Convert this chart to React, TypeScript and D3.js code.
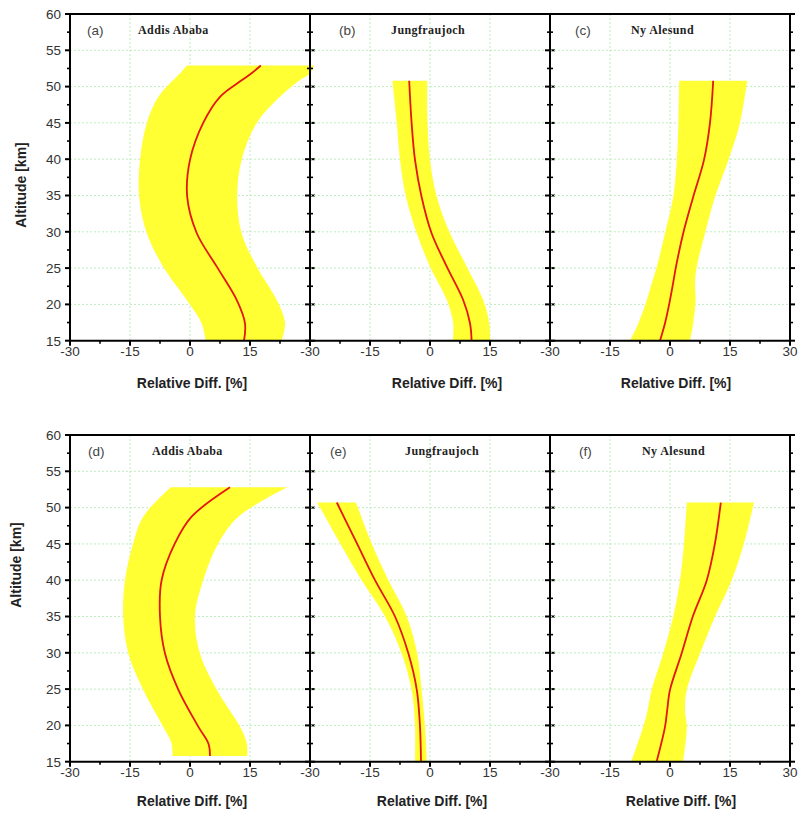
import React from "react";
import * as d3 from "d3";

// ---------- data (altitude in km, relative difference in %) ----------
const altA = [52.9, 51.8, 50.9, 48.6, 45, 39.9, 34.8, 29.8, 25.2, 20.6, 17.4, 15];
const lowA = [-0.8, -2.5, -4.2, -7.9, -10.8, -12.5, -12.7, -10.8, -6.7, -0.8, 2.9, 3.9];
const meanA = [17.7, 15.3, 13, 7.5, 3.3, 0, -0.7, 1.7, 6.7, 11.7, 13.75, 13.5];
const upA = [31, 30, 27.5, 22.5, 16.7, 12.9, 11.8, 12.9, 16.7, 21.7, 23.75, 22.9];

const altB = [50.8, 45, 39.9, 34.8, 29.8, 25.2, 20.6, 17.4, 15];
const lowB = [-9.4, -8.3, -7.5, -6, -3.3, 0, 4.2, 5.8, 5.7];
const meanB = [-5.2, -4.6, -3.75, -2.1, 0.4, 4.2, 8.3, 10, 10.4];
const upB = [-0.7, -0.6, 0, 1.7, 5, 9.2, 13.3, 14.8, 15];

const altC = [50.8, 45, 39.9, 34.8, 29.8, 25.2, 23, 20.6, 17.4, 15];
const lowC = [2.3, 2.1, 1.7, 0.8, -1.25, -3.3, -4.5, -5.8, -7.9, -10];
const meanC = [10.8, 10, 8.5, 5.8, 3.3, 1.5, 0.8, 0, -1.25, -2.5];
const upC = [19.3, 17.5, 14.6, 11.25, 8.75, 6.7, 6.25, 6.4, 5.8, 5];

const altD = [52.8, 48.75, 45.1, 40, 35, 29.9, 24.9, 19.8, 17.5, 15.8];
const lowD = [-4.8, -11.7, -14.2, -16.25, -16.7, -15.4, -11.7, -6.7, -4.6, -4.4];
const meanD = [10, 0.4, -3.75, -7.1, -7.5, -6.25, -2.9, 2.1, 4.6, 5];
const upD = [24.3, 12.1, 7.1, 3.3, 1.25, 2.5, 6.7, 12.5, 14.2, 14.3];

const altE = [50.7, 45.1, 40, 35, 29.9, 24.9, 19.8, 15.1];
const lowE = [-28.2, -22.5, -17.1, -11.25, -7.1, -4.6, -3.75, -3.75];
const meanE = [-23.3, -18.3, -13.75, -8.75, -5.4, -3.3, -2.5, -2.25];
const upE = [-18.5, -14.6, -10.4, -5.8, -3.2, -2.1, -1.25, -0.8];

const altF = [50.7, 45.1, 40, 35, 29.9, 24.9, 22.1, 19.8, 15.1];
const lowF = [4.2, 3.5, 2.5, 0.8, -1.7, -4.6, -5.6, -6.7, -9.6];
const meanF = [12.7, 11.25, 9.2, 5.7, 2.9, 0, -0.7, -1.25, -3.3];
const upF = [21, 18.5, 15.4, 11.25, 7.5, 4.2, 3.75, 4.2, 3.3];

const panelLetters = ["(a)", "(b)", "(c)", "(d)", "(e)", "(f)"];
const stations = ["Addis Ababa", "Jungfraujoch", "Ny Alesund", "Addis Ababa", "Jungfraujoch", "Ny Alesund"];
const xTicks = [-30, -15, 0, 15, 30];
const yTicks = [15, 20, 25, 30, 35, 40, 45, 50, 55, 60];
const xTitle = "Relative Diff. [%]";
const yTitle = "Altitude [km]";

// ---------- layout ----------
const W = 801;
const H = 816;
const PANEL_W = 240;
const PANEL_H = 326.7;
const lefts = [70, 310, 550];
const tops = [14, 435];
const letterDx = [17, 29, 25, 18, 20, 29];
const stationDx = [68, 81, 81, 82, 95, 92];
const xTitleCx = [192, 447, 676, 192, 432, 681];
const xTitleDy = [47, 44];
const yTitlePos = [
  { x: 21, y: 185 },
  { x: 16, y: 565 },
];

const YELLOW = "#ffff33";
const RED = "#e4160c";
const GRID = "#bdeebd";
const TICK_TXT = "#333";
const SANS = "'Liberation Sans', Arial, sans-serif";
const SERIF = "'Liberation Serif', 'Times New Roman', serif";

const series = [
  { alt: altA, low: lowA, mean: meanA, up: upA },
  { alt: altB, low: lowB, mean: meanB, up: upB },
  { alt: altC, low: lowC, mean: meanC, up: upC },
  { alt: altD, low: lowD, mean: meanD, up: upD },
  { alt: altE, low: lowE, mean: meanE, up: upE },
  { alt: altF, low: lowF, mean: meanF, up: upF },
];

function Panel({ idx }: { idx: number }) {
  const col = idx % 3;
  const row = Math.floor(idx / 3);
  const x0 = lefts[col];
  const y0 = tops[row];
  const x = d3.scaleLinear().domain([-30, 30]).range([x0, x0 + PANEL_W]);
  const y = d3.scaleLinear().domain([15, 60]).range([y0 + PANEL_H, y0]);
  const s = series[idx];
  const ids = d3.range(s.alt.length);

  const area = d3
    .area<number>()
    .curve(d3.curveCatmullRom.alpha(0.5))
    .y((i) => y(s.alt[i]))
    .x0((i) => x(s.low[i]))
    .x1((i) => x(s.up[i]));
  const line = d3
    .line<number>()
    .curve(d3.curveCatmullRom.alpha(0.5))
    .x((i) => x(s.mean[i]))
    .y((i) => y(s.alt[i]));

  const yMinor = d3.range(15, 60.01, 2.5);
  const xMinor = d3.range(-30, 30.01, 7.5);
  const bottom = y0 + PANEL_H;
  const xR = x0 + PANEL_W;

  return (
    <g>
      {[-15, 0, 15].map((v) => (
        <line key={"gx" + v} x1={x(v)} x2={x(v)} y1={y0} y2={bottom} stroke={GRID} strokeWidth={1} strokeDasharray="2,2" />
      ))}
      {yTicks.filter((v) => v > 15 && v < 60).map((v) => (
        <line key={"gy" + v} x1={x0} x2={xR} y1={y(v)} y2={y(v)} stroke={GRID} strokeWidth={1} strokeDasharray="2,2" />
      ))}
      <path d={area(ids) || ""} fill={YELLOW} stroke="none" />
      <path d={line(ids) || ""} fill="none" stroke={RED} strokeWidth={1.8} />
      {yMinor.map((v) => {
        const major = Math.abs(v % 5) < 1e-6;
        const len = major ? 5 : 3;
        return (
          <g key={"yt" + v}>
            <line x1={x0 - len} x2={x0} y1={y(v)} y2={y(v)} stroke="#000" strokeWidth={major ? 2 : 1.6} />
            <line x1={xR} x2={xR + len} y1={y(v)} y2={y(v)} stroke="#000" strokeWidth={major ? 2 : 1.6} />
          </g>
        );
      })}
      {xMinor.map((v) => {
        const major = Math.abs(v % 15) < 1e-6;
        const len = major ? 5 : 3;
        return <line key={"xt" + v} x1={x(v)} x2={x(v)} y1={bottom} y2={bottom + len} stroke="#000" strokeWidth={major ? 2 : 1.6} />;
      })}
      <line x1={x0} x2={x0} y1={y0} y2={bottom} stroke="#000" strokeWidth={2} />
      <line x1={xR} x2={xR} y1={y0} y2={bottom} stroke="#000" strokeWidth={2} />
      <line x1={x0 - 1} x2={xR + 1} y1={y0} y2={y0} stroke="#000" strokeWidth={2} />
      <line x1={x0 - 1} x2={xR + 1} y1={bottom} y2={bottom} stroke="#000" strokeWidth={2} />
      {xTicks
        .filter((v) => v < 30 || col === 2)
        .map((v) => (
          <text key={"xl" + v} x={x(v)} y={bottom + 15} textAnchor="middle" fontFamily={SANS} fontSize={13.5} fill={TICK_TXT}>
            {v}
          </text>
        ))}
      {col === 0 &&
        yTicks.map((v) => (
          <text key={"yl" + v} x={x0 - 9} y={y(v) + 4.8} textAnchor="end" fontFamily={SANS} fontSize={13.5} fill={TICK_TXT}>
            {v}
          </text>
        ))}
      <text x={x0 + letterDx[idx]} y={y0 + 21} fontFamily={SANS} fontSize={13.5} fill="#444">
        {panelLetters[idx]}
      </text>
      <text x={x0 + stationDx[idx]} y={y0 + 20} fontFamily={SERIF} fontWeight="bold" fontSize={12} letterSpacing={0.4} fill="#222">
        {stations[idx]}
      </text>
      <text x={xTitleCx[idx]} y={bottom + xTitleDy[row]} textAnchor="middle" fontFamily={SANS} fontWeight="bold" fontSize={14} fill="#222">
        {xTitle}
      </text>
    </g>
  );
}

export default function App() {
  return (
    <svg width={W} height={H} style={{ position: "absolute", left: 0, top: 0, background: "#fff" }}>
      <rect x={0} y={0} width={W} height={H} fill="#fff" />
      {d3.range(6).map((i) => (
        <Panel key={i} idx={i} />
      ))}
      {yTitlePos.map((p, i) => (
        <text
          key={i}
          transform={`translate(${p.x},${p.y}) rotate(-90)`}
          textAnchor="middle"
          dominantBaseline="central"
          fontFamily={SANS}
          fontWeight="bold"
          fontSize={14}
          fill="#222"
        >
          {yTitle}
        </text>
      ))}
    </svg>
  );
}
